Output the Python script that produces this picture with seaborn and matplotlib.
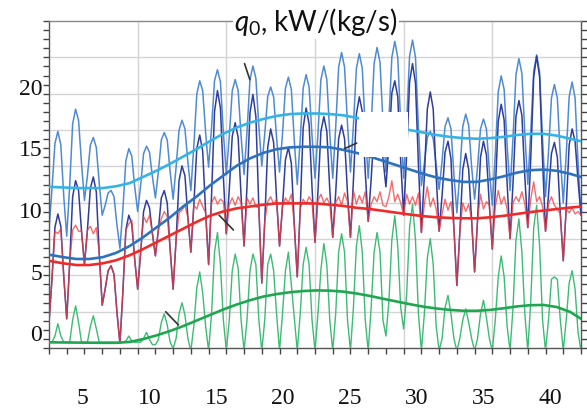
import numpy as np
import pandas as pd
import matplotlib
matplotlib.use("Agg")
import matplotlib.pyplot as plt
import seaborn as sns

# ---------------- data ----------------
# thin series: 6 samples per day, 30 days + final value
light_blue = [
    8.4, 11.6, 15.3, 16.3, 15.2, 11.0,   7.8, 11.9, 16.9, 18.1, 17.2, 13.7,
    10.7, 12.7, 15.2, 15.8, 15.0, 12.1,  9.5, 10.3, 11.3, 11.5, 11.0, 8.7,
    6.8, 10.0, 13.9, 14.9, 14.3, 11.8,   9.8, 11.9, 14.5, 15.1, 14.6, 12.6,
    10.9, 13.0, 15.6, 16.2, 15.6, 13.0,  10.8, 13.4, 16.4, 17.2, 16.5, 13.8,
    11.5, 15.1, 19.3, 20.4, 19.6, 16.2,  13.4, 16.6, 20.4, 21.3, 20.3, 16.2,
    12.8, 15.9, 19.6, 20.5, 19.6, 15.9,  12.8, 16.3, 20.5, 21.6, 20.6, 16.7,
    13.5, 16.1, 19.1, 19.9, 19.1, 15.8,  13.0, 16.1, 19.8, 20.7, 19.7, 15.5,
    12.0, 15.6, 19.8, 20.9, 19.9, 15.9,  12.5, 16.1, 20.5, 21.6, 20.5, 16.1,
    12.5, 16.6, 21.5, 22.7, 21.5, 16.9,  13.0, 16.8, 21.4, 22.6, 21.4, 16.5,
    12.5, 16.7, 21.8, 23.1, 21.9, 17.0,  13.0, 17.2, 22.3, 23.6, 22.3, 16.9,
    12.5, 17.0, 22.4, 23.7, 22.3, 16.6,  11.9, 13.7, 15.8, 16.3, 15.7, 13.5,
    11.6, 13.9, 16.7, 17.4, 16.5, 12.8,  9.7, 12.9, 16.7, 17.7, 16.8, 13.4,
    10.8, 13.4, 16.5, 17.3, 16.5, 13.1,  10.3, 14.5, 19.5, 20.8, 19.7, 15.2,
    11.5, 15.8, 20.9, 22.2, 21.0, 16.1,  12.0, 16.2, 21.2, 22.5, 21.1, 15.6,
    11.0, 14.6, 19.0, 20.1, 19.0, 14.3,  10.5, 14.4, 19.1, 20.3, 19.0, 13.8,
    9.5,
]
dark_blue = [
    0.8, 4.3, 8.5, 9.6, 8.6, 4.5,        1.1, 5.6, 11.0, 12.3, 11.5, 8.2,
    5.5, 8.3, 11.7, 12.6, 11.4, 6.4,     2.2, 3.5, 5.0, 5.4, 4.7, 1.6,
    -0.9, 3.3, 8.3, 9.5, 8.8, 5.9,       3.5, 6.4, 9.8, 10.7, 10.1, 8.0,
    6.2, 8.3, 10.9, 11.5, 10.5, 6.7,     3.5, 7.5, 12.3, 13.5, 12.7, 9.3,
    6.5, 10.3, 14.9, 16.0, 14.7, 9.7,    5.5, 11.1, 17.9, 19.6, 18.2, 12.6,
    8.0, 11.6, 15.9, 17.0, 15.8, 11.0,   7.0, 11.9, 17.8, 19.3, 17.5, 10.1,
    4.0, 9.0, 15.0, 16.5, 15.4, 10.8,    7.0, 10.2, 14.0, 15.0, 13.7, 8.7,
    4.5, 10.0, 16.6, 18.2, 16.9, 11.7,   7.3, 11.4, 16.3, 17.5, 16.3, 11.6,
    7.7, 11.3, 15.7, 16.8, 15.7, 11.3,   7.7, 12.3, 17.7, 19.1, 17.9, 13.0,
    9.0, 12.4, 16.5, 17.5, 16.9, 14.1,   11.8, 15.2, 19.4, 20.4, 19.1, 13.9,
    9.5, 14.4, 20.3, 21.8, 20.2, 13.6,   8.1, 12.7, 18.1, 19.5, 18.1, 12.7,
    8.2, 11.1, 14.6, 15.5, 14.1, 8.5,    3.8, 8.1, 13.2, 14.5, 13.2, 9.1,
    4.9, 9.1, 14.2, 15.5, 14.4, 10.3,    6.75, 11.5, 17.1, 18.5, 17.2, 12.1,
    7.6, 12.1, 17.5, 18.8, 17.6, 12.6,   8.5, 14.1, 20.7, 22.4, 20.7, 13.9,
    8.2, 11.1, 14.5, 15.4, 14.2, 9.6,    5.8, 10.1, 15.2, 16.5, 15.5, 12.3,
    9.5,
]
red = [
    0.8, 4.3, 8.2, 8.0, 8.4, 4.5,        1.1, 5.6, 8.3, 8.7, 8.2, 8.2,
    5.5, 8.3, 8.6, 8.0, 8.5, 6.4,        2.2, 3.5, 5.0, 5.4, 4.7, 1.6,
    -0.9, 3.3, 8.3, 8.8, 9.1, 5.9,       3.5, 6.4, 9.4, 8.9, 9.5, 8.0,
    6.2, 8.3, 9.2, 9.8, 9.4, 6.7,        3.5, 7.5, 9.7, 9.9, 10.3, 9.3,
    6.5, 10.3, 10.0, 10.8, 10.2, 9.7,    5.5, 10.5, 11.0, 10.4, 10.8, 10.6,
    8.0, 10.4, 10.9, 10.3, 11.0, 10.5,   7.0, 10.9, 10.4, 10.9, 10.2, 10.1,
    4.0, 9.0, 10.6, 11.0, 10.4, 10.8,    7.0, 10.2, 10.9, 10.5, 11.2, 8.7,
    4.5, 10.0, 10.8, 10.4, 11.0, 10.6,   7.3, 10.7, 11.2, 10.5, 10.9, 10.4,
    7.7, 10.5, 11.0, 10.3, 11.3, 10.6,   7.7, 11.5, 10.4, 11.1, 10.5, 11.4,
    9.0, 10.4, 11.0, 10.6, 11.4, 10.3,   10.2, 11.0, 12.3, 10.6, 11.2, 10.5,
    9.5, 11.2, 10.4, 11.0, 10.3, 11.3,   8.1, 10.4, 11.8, 10.2, 10.9, 10.0,
    8.2, 9.6, 10.8, 9.9, 10.6, 8.5,      3.8, 8.1, 10.5, 9.8, 10.4, 9.1,
    4.9, 9.1, 11.2, 10.0, 10.6, 10.3,    6.75, 10.2, 11.5, 10.4, 11.0, 10.0,
    7.6, 10.5, 11.0, 10.6, 11.4, 10.4,   8.5, 10.8, 12.2, 10.6, 11.0, 10.2,
    8.2, 10.4, 11.0, 10.3, 10.0, 9.6,    5.8, 10.0, 9.7, 10.1, 9.6, 9.8,
    9.5,
]
green = [
    -0.8, -0.8, -0.3, 0.7, -0.3, -0.8,   -0.8, -0.8, 1.0, 2.15, 0.8, -0.8,
    -0.8, -0.8, 0.5, 1.35, 0.3, -0.8,    -0.8, -0.8, -0.8, -0.8, -0.8, -0.8,
    -0.8, -0.8, -0.7, -0.3, -0.7, -0.8,  -0.8, -0.8, -0.5, 0.0, -0.6, -1.0,
    -1.0, -0.6, 0.8, 1.5, 0.6, -0.8,     -1.3, -0.5, 1.5, 2.4, 1.4, -0.5,
    -1.5, 0.5, 3.6, 4.9, 3.2, 0.5,       -1.5, 1.5, 6.5, 8.1, 5.5, 1.0,
    -1.5, 1.0, 5.0, 6.35, 5.2, 1.0,      -1.5, 1.0, 5.0, 6.35, 5.5, 1.0,
    -1.5, 1.0, 5.5, 6.35, 5.0, 1.5,      -1.5, 1.5, 5.0, 6.5, 3.8, 1.0,
    -1.5, 1.5, 5.5, 6.9, 5.5, 1.0,       -1.5, 1.5, 5.1, 7.2, 5.5, 1.0,
    -1.5, 1.5, 6.5, 8.0, 6.5, 1.0,       -1.5, 2.0, 7.0, 8.65, 6.5, 1.0,
    -1.5, 2.0, 6.5, 8.1, 6.5, 1.0,       -0.3, 2.5, 7.5, 9.46, 7.0, 2.0,
    0.27, 3.0, 8.5, 10.4, 7.5, 1.5,      -1.5, 1.5, 6.0, 7.6, 5.5, 0.5,
    -1.5, -0.5, 2.0, 3.0, 1.5, -0.5,     -1.5, -0.5, 1.0, 1.9, 0.8, -0.5,
    -1.5, -0.5, 1.5, 2.6, 1.2, -0.5,     -1.5, 1.0, 4.5, 6.2, 4.5, 0.5,
    -1.5, 2.0, 7.5, 9.2, 6.5, 1.5,       -1.5, 2.5, 8.5, 10.3, 7.0, 1.0,
    -1.5, 1.0, 4.3, 4.5, 4.3, 1.0,       -1.5, 1.0, 4.0, 5.0, 3.5, 0.0,
    -1.5,
]
t_start, t_step = 2.46, 0.22133        # sample spacing (1/6 day)

# smooth trend curves
trend_x = [2.46, 3.5, 4.5, 5.5, 6.5, 7.5, 8.5, 9.5, 10.5, 11.5, 12.5, 13.5, 14.5, 15.5,
           16.5, 17.5, 18.5, 19.5, 20.5, 21.5, 22.5, 23.5, 24.5, 25.5, 26.5, 27.5, 28.5,
           29.5, 30.5, 31.5, 32.5, 33.5, 34.5, 35.5, 36.5, 37.5, 38.5, 39.5, 40.5, 41.5, 42.3]
lb_trend = [11.8, 11.75, 11.7, 11.7, 11.7, 11.85, 12.1, 12.6, 13.1, 13.65, 14.25, 14.85, 15.5, 16.1,
            16.6, 17.0, 17.3, 17.55, 17.7, 17.75, 17.75, 17.7, 17.6, 17.4, 17.15, 16.9, 16.65,
            16.4, 16.2, 16.0, 15.85, 15.75, 15.7, 15.75, 15.85, 16.0, 16.1, 16.1, 15.95, 15.7, 15.5]
db_trend = [6.3, 6.1, 5.95, 5.95, 6.1, 6.45, 7.0, 7.7, 8.5, 9.3, 10.2, 11.0, 11.9, 12.7,
            13.5, 14.1, 14.55, 14.85, 15.0, 15.05, 15.05, 15.0, 14.8, 14.55, 14.25, 13.9, 13.55,
            13.2, 12.85, 12.55, 12.35, 12.2, 12.2, 12.4, 12.65, 12.95, 13.15, 13.2, 13.1, 12.85, 12.6]
red_trend = [5.8, 5.6, 5.46, 5.46, 5.6, 5.85, 6.25, 6.75, 7.3, 7.85, 8.4, 8.95, 9.45, 9.8,
             10.05, 10.2, 10.35, 10.45, 10.46, 10.46, 10.45, 10.35, 10.25, 10.1, 10.0, 9.85, 9.7,
             9.55, 9.42, 9.33, 9.28, 9.25, 9.25, 9.33, 9.45, 9.6, 9.75, 9.88, 10.0, 10.12, 10.2]
gr_trend = [-0.81, -0.82, -0.83, -0.84, -0.85, -0.85, -0.78, -0.55, -0.25, 0.1, 0.5, 0.95, 1.4, 1.85,
            2.25, 2.6, 2.9, 3.1, 3.25, 3.35, 3.4, 3.38, 3.3, 3.15, 2.95, 2.72, 2.5,
            2.28, 2.08, 1.93, 1.82, 1.75, 1.75, 1.82, 1.95, 2.1, 2.2, 2.22, 2.05, 1.65, 1.1]

# short leader strokes (x0, y0, x1, y1)
leaders = [(17.1, 21.8, 17.5, 20.5), (15.2, 9.5, 16.27, 8.3),
           (11.2, 1.67, 12.15, 0.6), (24.6, 14.9, 25.5, 15.35)]
# white patch (x0, x1, y0, y1)
patch = (25.65, 29.35, 14.2, 17.9)

x_ticks = [5, 10, 15, 20, 25, 30, 35, 40]
y_ticks = [0, 5, 10, 15, 20]
xlim = (2.46, 42.30)
ylim = (-1.27, 25.25)
title = r"$q_0$, kW/(kg/s)"

# ---------------- plot ----------------
sns.set_theme(style="white")
plt.rcParams["mathtext.fontset"] = "custom"
plt.rcParams["mathtext.it"] = "Lato:italic"
plt.rcParams["mathtext.rm"] = "Lato"

fig = plt.figure(figsize=(5.87, 4.10), dpi=100)
ax = fig.add_axes([49 / 587, 1 - 349 / 410, 532 / 587, 327 / 410])
ax.set_xlim(*xlim)
ax.set_ylim(*ylim)

t = t_start + t_step * np.arange(len(light_blue))
thin = pd.DataFrame({"t": t, "lb": light_blue, "db": dark_blue, "red": red, "green": green})
trends = pd.DataFrame({"x": trend_x, "lb": lb_trend, "db": db_trend, "red": red_trend, "green": gr_trend})

# grid lines
for gx in np.linspace(xlim[0], xlim[1], 7)[1:-1]:
    ax.axvline(gx, color="#d4d4d4", lw=1.0, zorder=0)
for gy in np.linspace(ylim[0], ylim[1], 10)[1:-1]:
    ax.axhline(gy, color="#d4d4d4", lw=1.0, zorder=0)

kw = dict(sort=False, estimator=None, legend=False)
sns.lineplot(data=thin, x="t", y="lb", ax=ax, color="#4f8ad2", lw=1.1, zorder=2, **kw)
sns.lineplot(data=thin, x="t", y="db", ax=ax, color="#2f3d9c", lw=1.1, zorder=3, **kw)
sns.lineplot(data=thin, x="t", y="red", ax=ax, color="#f03c3c", lw=1.0, alpha=0.75, zorder=4, **kw)
sns.lineplot(data=thin, x="t", y="green", ax=ax, color="#3dbb74", lw=1.0, zorder=5, **kw)

sns.lineplot(data=trends, x="x", y="lb", ax=ax, color="#35b3e6", lw=1.9, zorder=6, **kw)
sns.lineplot(data=trends, x="x", y="db", ax=ax, color="#2d72bf", lw=1.9, zorder=6, **kw)
sns.lineplot(data=trends, x="x", y="red", ax=ax, color="#ee2b2b", lw=1.9, zorder=6, **kw)
sns.lineplot(data=trends, x="x", y="green", ax=ax, color="#1fa650", lw=1.9, zorder=6, **kw)

for x0, y0, x1, y1 in leaders:
    ax.plot([x0, x1], [y0, y1], color="#333333", lw=1.2, zorder=7)

ax.fill_between([patch[0], patch[1]], patch[2], patch[3], color="white", lw=0, zorder=8)

ax.set_xlabel("")
ax.set_ylabel("")

# ticks
ax.set_xticks(x_ticks)
ax.set_yticks(y_ticks)
ax.set_xticks(np.linspace(xlim[0], xlim[1], 31), minor=True)
ax.set_yticks(np.linspace(ylim[0], ylim[1], 37), minor=True)
ax.tick_params(axis="x", which="major", length=0, pad=28, labelsize=17, labelcolor="#111111")
ax.tick_params(axis="y", which="major", length=0, pad=5, labelsize=17, labelcolor="#111111")
ax.tick_params(axis="x", which="minor", length=4, width=1, color="#444444", direction="out", bottom=True)
ax.tick_params(axis="y", which="minor", length=4.5, width=1, color="#444444", direction="out",
               left=True, right=True)
for lab in ax.get_xticklabels() + ax.get_yticklabels():
    lab.set_family("Liberation Serif")

for side, sp in ax.spines.items():
    sp.set_visible(True)
    sp.set_color("#555555")
    sp.set_linewidth(1.0)
ax.spines["top"].set_color("#888888")

fig.text(316 / 587, 1 - 31.5 / 410, title, ha="center", va="baseline", fontsize=20,
         family="Lato", color="#111111",
         bbox=dict(facecolor="white", edgecolor="none", pad=1.0), zorder=10)

fig.savefig("out.png", dpi=100)
